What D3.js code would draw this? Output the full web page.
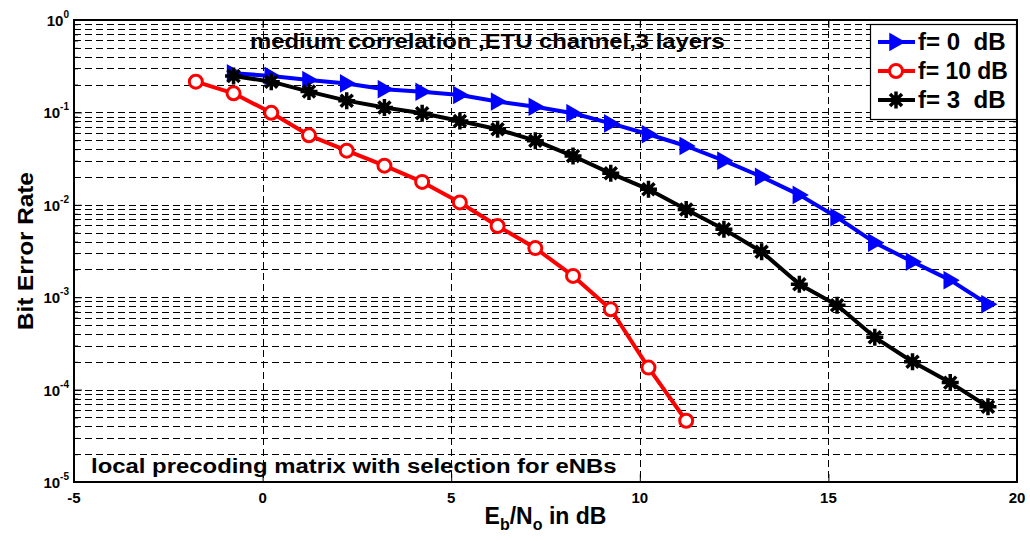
<!DOCTYPE html>
<html>
<head>
<meta charset="utf-8">
<script src="https://cdn.jsdelivr.net/npm/d3@7"></script>
<style>
  html, body { margin: 0; padding: 0; background: #fff; }
  svg { display: block; font-family: "Liberation Sans", Arial, Helvetica, sans-serif; font-weight: bold; }
  text { white-space: pre; }
</style>
</head>
<body>
<svg id="chart" width="1030" height="541"></svg>
<script>
// Eb/No sample points (dB)
const snrRed = [-1.77, -0.77, 0.23, 1.23, 2.23, 3.23, 4.23, 5.23, 6.23, 7.23, 8.23, 9.23, 10.23, 11.23];
const snrFull = [-0.77, 0.23, 1.23, 2.23, 3.23, 4.23, 5.23, 6.23, 7.23, 8.23, 9.23,
                 10.23, 11.23, 12.23, 13.23, 14.23, 15.23, 16.23, 17.23, 18.23, 19.23];

// Bit error rate per curve
const berF0 = [0.265, 0.248, 0.224, 0.206, 0.178, 0.167, 0.154, 0.131, 0.115, 0.098, 0.076,
               0.058, 0.0433, 0.030, 0.0201, 0.0128, 0.00732, 0.00389, 0.00242, 0.00153, 0.00084];
const berF10 = [0.215, 0.161, 0.099, 0.0565, 0.0385, 0.0265, 0.0177, 0.0106, 0.0059, 0.0034,
                0.0017, 0.00074, 0.000173, 0.000046];
const berF3 = [0.248, 0.215, 0.168, 0.134, 0.113, 0.098, 0.0807, 0.0656, 0.0494, 0.0337, 0.0219,
               0.0147, 0.0089, 0.00543, 0.00311, 0.00138, 0.000817, 0.000368, 0.0002, 0.000119, 0.0000653];

const xTicks = [-5, 0, 5, 10, 15, 20];
const yExponents = [0, -1, -2, -3, -4, -5];
const legendLabels = ["f= 0  dB", "f= 10 dB", "f= 3  dB"];

const svg = d3.select("#chart");
const L = 74, R = 1017, T = 20, B = 482;

const x = d3.scaleLinear().domain([-5, 20]).range([L, R]);
const y = d3.scaleLog().domain([1e-5, 1]).range([B, T]);

// stretch a text horizontally so that it spans the given width, anchored at (ax, ay)
function stretchText(textSel, ax, ay, width, anchor) {
  const w = textSel.node().getComputedTextLength();
  const sx = width / w;
  const dx = anchor === "middle" ? -width / 2 : 0;
  textSel.attr("x", 0).attr("y", 0)
    .attr("transform", `translate(${ax + dx},${ay}) scale(${sx},1)`);
}

// grid
const grid = svg.append("g").attr("stroke", "#000").attr("stroke-width", 1)
  .attr("stroke-dasharray", "7,4").attr("fill", "none");
const minorVals = [];
for (let e = -5; e < 0; e++) {
  for (let m = 1; m <= 9; m++) minorVals.push(m * Math.pow(10, e));
}
grid.selectAll("line.h").data(minorVals.filter(v => v > 1e-5 && v < 1)).join("line")
  .attr("x1", L).attr("x2", R)
  .attr("y1", d => Math.round(y(d)) + 0.5).attr("y2", d => Math.round(y(d)) + 0.5);
grid.selectAll("line.v").data(xTicks.filter(v => v > -5 && v < 20)).join("line")
  .attr("y1", T).attr("y2", B)
  .attr("x1", d => Math.round(x(d)) + 0.5).attr("x2", d => Math.round(x(d)) + 0.5);

// axes (ticks pointing inward)
const axisStyle = g => {
  g.select(".domain").remove();
  g.selectAll("text").remove();
  g.selectAll("line").attr("stroke", "#000").attr("stroke-width", 1);
};
svg.append("g").attr("transform", `translate(0,${B})`)
  .call(d3.axisBottom(x).tickValues(xTicks).tickSize(-8)).call(axisStyle);
svg.append("g").attr("transform", `translate(0,${T})`)
  .call(d3.axisTop(x).tickValues(xTicks).tickSize(-8)).call(axisStyle);

const majors = yExponents.map(e => Math.pow(10, e));
const minors = minorVals.filter(v => !majors.some(m => Math.abs(m - v) / v < 1e-9));
svg.append("g").attr("transform", `translate(${L},0)`)
  .call(d3.axisLeft(y).tickValues(majors).tickSize(-8)).call(axisStyle);
svg.append("g").attr("transform", `translate(${L},0)`)
  .call(d3.axisLeft(y).tickValues(minors).tickSize(-4)).call(axisStyle);
svg.append("g").attr("transform", `translate(${R},0)`)
  .call(d3.axisRight(y).tickValues(majors).tickSize(-8)).call(axisStyle);
svg.append("g").attr("transform", `translate(${R},0)`)
  .call(d3.axisRight(y).tickValues(minors).tickSize(-4)).call(axisStyle);

// frame
svg.append("rect").attr("x", L).attr("y", T).attr("width", R - L).attr("height", B - T)
  .attr("fill", "none").attr("stroke", "#000").attr("stroke-width", 2);

// tick labels
svg.append("g").selectAll("text").data(xTicks).join("text")
  .attr("x", d => x(d)).attr("y", B + 21).attr("text-anchor", "middle")
  .attr("font-size", 15).text(d => d);

const yl = svg.append("g").selectAll("text").data(yExponents).join("text")
  .attr("x", L - 5).attr("y", d => y(Math.pow(10, d)) + 6).attr("text-anchor", "end")
  .attr("font-size", 15);
yl.append("tspan").text("10");
yl.append("tspan").attr("dy", -8).attr("font-size", 10).text(d => String(d));

// axis titles
const yTitle = svg.append("g").attr("transform", `translate(33,${(T + B) / 2}) rotate(-90)`)
  .append("text").attr("font-size", 22).text("Bit Error Rate");
stretchText(yTitle, 0, 0, 158, "middle");

const xl = svg.append("text").attr("x", (L + R) / 2).attr("y", 524)
  .attr("text-anchor", "middle").attr("font-size", 23);
xl.append("tspan").text("E");
xl.append("tspan").attr("font-size", 16).attr("dy", 6).text("b");
xl.append("tspan").attr("dy", -6).text("/N");
xl.append("tspan").attr("font-size", 16).attr("dy", 6).text("o");
xl.append("tspan").attr("dy", -6).text(" in dB");

// annotations
const title = svg.append("text").attr("font-size", 21).text("medium correlation ,ETU channel,3 layers");
stretchText(title, 250, 48, 475, "start");
const note = svg.append("text").attr("font-size", 21).text("local precoding matrix with selection for eNBs");
stretchText(note, 91, 473, 526, "start");

// markers
const triPath = "M-6,-8L8,0L-6,8Z";
const starPath = "M-8.5,0L8.5,0M0,-8.5L0,8.5M-6,-6L6,6M-6,6L6,-6";

function drawMarker(g, kind, color) {
  if (kind === "tri") {
    g.append("path").attr("d", triPath).attr("fill", color).attr("stroke", color).attr("stroke-width", 1.5);
  } else if (kind === "circle") {
    g.append("circle").attr("r", 6.5).attr("fill", "#fff").attr("stroke", color).attr("stroke-width", 3);
  } else {
    g.append("circle").attr("r", 4.5).attr("fill", color);
    g.append("path").attr("d", starPath).attr("stroke", color).attr("stroke-width", 3.5).attr("fill", "none");
  }
}

const series = [
  { xs: snrFull, ys: berF0, color: "#0000ff", kind: "tri" },
  { xs: snrRed, ys: berF10, color: "#ff0000", kind: "circle" },
  { xs: snrFull, ys: berF3, color: "#000000", kind: "star" }
];

const plot = svg.append("g");
const line = d3.line().x(d => x(d[0])).y(d => y(d[1]));
series.forEach(s => {
  const pts = s.xs.map((v, i) => [v, s.ys[i]]);
  plot.append("path").datum(pts).attr("d", line).attr("fill", "none")
    .attr("stroke", s.color).attr("stroke-width", 4).attr("stroke-linejoin", "round");
  plot.selectAll(null).data(pts).join("g")
    .attr("transform", d => `translate(${x(d[0])},${y(d[1])})`)
    .each(function () { drawMarker(d3.select(this), s.kind, s.color); });
});

// legend
const lg = svg.append("g");
lg.append("rect").attr("x", 870.5).attr("y", 24.5).attr("width", 146).attr("height", 95)
  .attr("fill", "#fff").attr("stroke", "#000").attr("stroke-width", 1.2);
series.forEach((s, i) => {
  const cy = 42 + i * 29;
  lg.append("line").attr("x1", 878).attr("x2", 915).attr("y1", cy).attr("y2", cy)
    .attr("stroke", s.color).attr("stroke-width", 4);
  drawMarker(lg.append("g").attr("transform", `translate(896,${cy})`), s.kind, s.color);
  const t = lg.append("text").attr("font-size", 23).text(legendLabels[i]);
  stretchText(t, 918, cy + 8, i === 1 ? 90 : t.node().getComputedTextLength() * 90 / 86, "start");
});
</script>
</body>
</html>
